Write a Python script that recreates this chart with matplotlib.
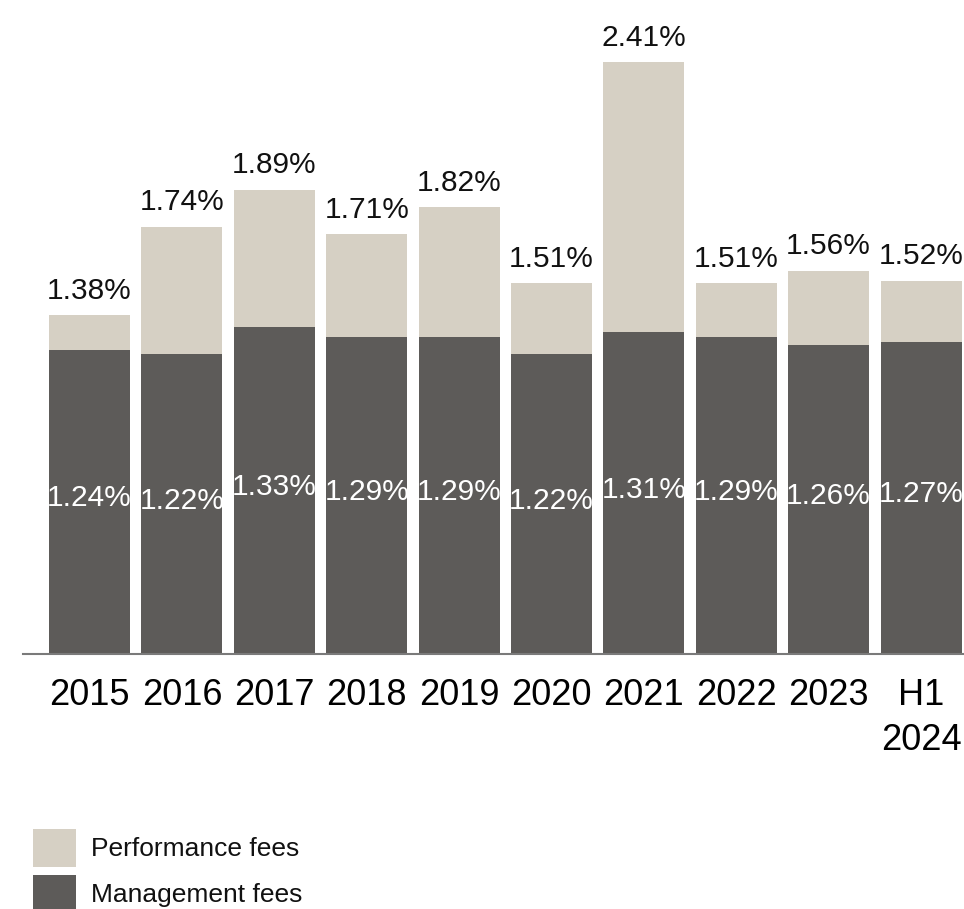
import matplotlib
matplotlib.use("Agg")
import matplotlib.pyplot as plt
from matplotlib.patches import Rectangle

categories = ["2015", "2016", "2017", "2018", "2019", "2020", "2021", "2022", "2023", "H1\n2024"]
management = [1.24, 1.22, 1.33, 1.29, 1.29, 1.22, 1.31, 1.29, 1.26, 1.27]
total = [1.38, 1.74, 1.89, 1.71, 1.82, 1.51, 2.41, 1.51, 1.56, 1.52]
performance = [t - m for t, m in zip(total, management)]

c_perf = "#d6d0c4"
c_mgmt = "#5d5b59"

plt.rcParams['font.family'] = ['Liberation Sans', 'DejaVu Sans']

W, H = 964, 909
fig = plt.figure(figsize=(W / 100, H / 100), dpi=100)
base_px = 654
ax = fig.add_axes([23 / W, (H - base_px) / H, (W - 23) / W, base_px / H])

x = list(range(len(categories)))
ax.bar(x, management, width=0.877, color=c_mgmt, linewidth=0)
ax.bar(x, performance, bottom=management, width=0.877, color=c_perf, linewidth=0)

for xi, m, t in zip(x, management, total):
    ax.text(xi, m / 2 + 0.015, f"{m:.2f}%", ha='center', va='center', color='white', fontsize=21.5)
    ax.annotate(f"{t:.2f}%", (xi, t), xytext=(0, 12), textcoords='offset points',
                ha='center', va='baseline', fontsize=21.5, color='#111111')

ax.set_xlim(-0.72, 9.465)
ax.set_ylim(0, base_px / 245.5)
ax.set_xticks(x)
ax.set_xticklabels(categories, fontsize=26, linespacing=1.4)
ax.tick_params(axis='x', length=0, pad=17)
ax.set_yticks([])
for s in ['top', 'right', 'left']:
    ax.spines[s].set_visible(False)
ax.spines['bottom'].set_color('#7a7a7a')
ax.spines['bottom'].set_linewidth(1.5)

# legend
items = [("Performance fees", c_perf, 829), ("Management fees", c_mgmt, 875)]
for label, col, top in items:
    fig.patches.append(Rectangle((33 / W, (H - top - 38) / H), 43 / W, 38 / H,
                                 transform=fig.transFigure, color=col, linewidth=0))
    fig.text(91 / W, (H - top - 20) / H, label, fontsize=19, va='center', ha='left', color='#111111')

fig.savefig("out.png", dpi=100)
